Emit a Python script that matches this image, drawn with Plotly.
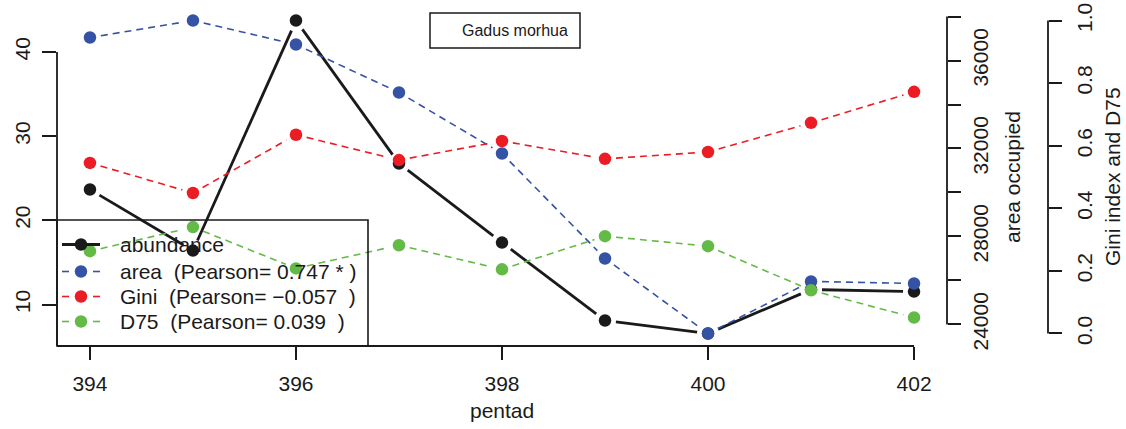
import plotly.graph_objects as go

pentad = [394, 395, 396, 397, 398, 399, 400, 401, 402]
abundance = [23.66, 16.41, 43.73, 26.75, 17.36, 8.10, 6.56, 11.78, 11.54]
area = [37045, 37818, 36727, 34545, 31773, 27000, 23590, 25955, 25864]
gini = [0.545, 0.449, 0.635, 0.554, 0.615, 0.558, 0.580, 0.673, 0.772]
d75 = [0.263, 0.340, 0.208, 0.282, 0.205, 0.311, 0.279, 0.138, 0.051]

x_ticks = [394, 396, 398, 400, 402]
y_ticks = [10, 20, 30, 40]
area_ticks = [24000, 26000, 28000, 30000, 32000, 34000, 36000, 38000]
area_labels = ["24000", "", "28000", "", "32000", "", "36000", ""]
gini_ticks = [0.0, 0.2, 0.4, 0.6, 0.8, 1.0]
gini_labels = ["0.0", "0.2", "0.4", "0.6", "0.8", "1.0"]

legend_names = [
    "abundance",
    "area\u00a0\u00a0(Pearson= 0.747 * )",
    "Gini\u00a0\u00a0(Pearson= \u22120.057\u00a0\u00a0)",
    "D75\u00a0\u00a0(Pearson= 0.039\u00a0\u00a0)",
]

BLACK = "#1a1a1a"
BLUE = "#3553a4"
RED = "#ec1c24"
GREEN = "#63ba47"
FONT = "Liberation Sans, Arial, Helvetica, sans-serif"


def ext(vals):
    lo, hi = min(vals), max(vals)
    r = hi - lo
    return [lo - 0.04 * r, hi + 0.04 * r]


xr = ext(pentad)
yr = ext(abundance)
ar = ext(area)
gr = [-0.04, 1.04]

W, H = 1126, 429
ML, MR, MT, MB = 57, 10, 8, 83
PW = W - ML - MR
PH = H - MT - MB
plot_right = 947
gini_axis = 1048
d = (plot_right - ML) / PW
p3 = (gini_axis - ML) / PW
AW = plot_right - ML  # plot area width in px
GAP = 11  # R type="b" gap around points (px)


def px(xp):
    return (xp - ML) / PW


def py(yp):
    return (H - MB - yp) / PH


def gapped(xs, ys, rng):
    """Line segments between consecutive points, shortened near each point
    like R's type='b' (computed through the axis ranges)."""
    sx = AW / (xr[1] - xr[0])
    sy = PH / (rng[1] - rng[0])
    ox, oy = [], []
    for i in range(len(xs) - 1):
        dx = (xs[i + 1] - xs[i]) * sx
        dy = (ys[i + 1] - ys[i]) * sy
        L = (dx * dx + dy * dy) ** 0.5
        if L <= 2 * GAP:
            continue
        f = GAP / L
        ox += [xs[i] + (xs[i + 1] - xs[i]) * f, xs[i + 1] - (xs[i + 1] - xs[i]) * f, None]
        oy += [ys[i] + (ys[i + 1] - ys[i]) * f, ys[i + 1] - (ys[i + 1] - ys[i]) * f, None]
    return ox, oy


series = [
    (abundance, yr, "y", BLACK, 2.8, "solid"),
    (area, ar, "y2", BLUE, 1.6, "7px,5px"),
    (gini, gr, "y3", RED, 1.6, "7px,5px"),
    (d75, gr, "y3", GREEN, 1.6, "7px,5px"),
]

fig = go.Figure()
for vals, rng, ax, col, w, dash in series:
    lx, ly = gapped(pentad, vals, rng)
    fig.add_trace(go.Scatter(x=lx, y=ly, mode="lines", yaxis=ax, showlegend=False,
                             hoverinfo="skip", line=dict(color=col, width=w, dash=dash)))
    fig.add_trace(go.Scatter(x=pentad, y=vals, mode="markers", yaxis=ax, showlegend=False,
                             marker=dict(color=col, size=12.5, line=dict(width=0))))

tickfont = dict(family=FONT, size=21, color=BLACK)
common = dict(showgrid=False, zeroline=False, showline=False, ticks="outside",
              tickwidth=1.6, tickcolor=BLACK, tickfont=tickfont, automargin=False)

lw = 1.8
shapes = [
    dict(type="line", xref="paper", yref="y", x0=0, x1=0, y0=yr[0], y1=40,
         line=dict(color=BLACK, width=lw)),
    dict(type="line", xref="x", yref="paper", x0=xr[0], x1=402, y0=0, y1=0,
         line=dict(color=BLACK, width=lw)),
    dict(type="line", xref="paper", yref="y2", x0=d, x1=d, y0=24000, y1=38000,
         line=dict(color=BLACK, width=lw)),
    dict(type="line", xref="paper", yref="y3", x0=p3, x1=p3, y0=0, y1=1,
         line=dict(color=BLACK, width=lw)),
    dict(type="rect", xref="paper", yref="paper", x0=px(430), x1=px(580),
         y0=py(48), y1=py(13), line=dict(color=BLACK, width=1.5)),
    # legend box
    dict(type="rect", xref="paper", yref="paper", x0=0, x1=px(368),
         y0=0, y1=py(220), line=dict(color=BLACK, width=1.6)),
]

annotations = [
    dict(text="Gadus morhua", xref="paper", yref="paper", x=px(460), y=py(30.5),
         xanchor="left", yanchor="middle", showarrow=False,
         font=dict(family=FONT, size=16, color=BLACK)),
    dict(text="pentad", xref="paper", yref="paper", x=px(502), y=py(410),
         xanchor="center", yanchor="middle", showarrow=False,
         font=dict(family=FONT, size=21, color=BLACK)),
    dict(text="area occupied", xref="paper", yref="paper", x=px(1012), y=0.5,
         xanchor="center", yanchor="middle", showarrow=False, textangle=-90,
         font=dict(family=FONT, size=21, color=BLACK)),
    dict(text="Gini index and D75", xref="paper", yref="paper", x=px(1112), y=0.5,
         xanchor="center", yanchor="middle", showarrow=False, textangle=-90,
         font=dict(family=FONT, size=21, color=BLACK)),
]

# manual R-style legend
row_y = [244.5, 271.5, 296.5, 321.5]
for i, (name, (vals, rng, ax, col, w, dash)) in enumerate(zip(legend_names, series)):
    yy = py(row_y[i])
    if dash == "solid":
        shapes.append(dict(type="line", xref="paper", yref="paper", x0=px(62), x1=px(100),
                           y0=yy, y1=yy, line=dict(color=col, width=w)))
    else:
        for a, b in ((62, 69), (93, 100)):
            shapes.append(dict(type="line", xref="paper", yref="paper", x0=px(a), x1=px(b),
                               y0=yy, y1=yy, line=dict(color=col, width=w)))
    shapes.append(dict(type="circle", xref="paper", yref="paper",
                       xsizemode="pixel", ysizemode="pixel", xanchor=px(81), yanchor=yy,
                       x0=-6.25, x1=6.25, y0=-6.25, y1=6.25,
                       fillcolor=col, line=dict(width=0)))
    annotations.append(dict(text=name, xref="paper", yref="paper", x=px(118), y=yy,
                            xanchor="left", yanchor="middle", showarrow=False,
                            font=dict(family=FONT, size=21, color=BLACK)))

fig.update_layout(
    width=W, height=H, autosize=False,
    margin=dict(l=ML, r=MR, t=MT, b=MB),
    paper_bgcolor="white", plot_bgcolor="white",
    font=dict(family=FONT, size=21, color=BLACK),
    xaxis=dict(domain=[0, d], range=xr, tickvals=x_ticks, ticklen=13,
               ticklabelstandoff=6, **common),
    yaxis=dict(range=yr, tickvals=y_ticks, ticklen=14, tickangle=-90,
               ticklabelstandoff=4, **common),
    yaxis2=dict(range=ar, tickvals=area_ticks, ticktext=area_labels, ticklen=13,
                tickangle=-90, overlaying="y", anchor="free", position=d,
                side="right", ticklabelstandoff=2, **common),
    yaxis3=dict(range=gr, tickvals=gini_ticks, ticktext=gini_labels, ticklen=13,
                tickangle=-90, overlaying="y", anchor="free", position=p3,
                side="right", ticklabelstandoff=5, **common),
    showlegend=False,
    shapes=shapes,
    annotations=annotations,
)

fig.write_html("out.html")
